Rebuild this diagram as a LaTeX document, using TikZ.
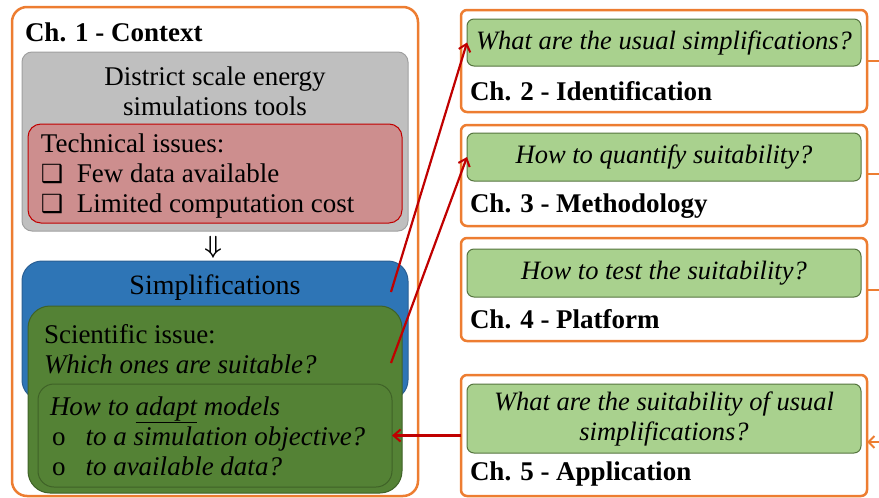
\documentclass[tikz,border=0pt]{standalone}
\usepackage{fontspec}
\setmainfont{Liberation Serif}
\newfontfamily\djv{DejaVu Sans}
\usetikzlibrary{arrows.meta}
\definecolor{orng}{HTML}{ED7D31}
\definecolor{grayfill}{HTML}{BFBFBF}
\definecolor{grayline}{HTML}{A0A0A0}
\definecolor{redfill}{HTML}{CD8E8E}
\definecolor{redline}{HTML}{C00000}
\definecolor{bluefill}{HTML}{2E75B6}
\definecolor{blueline}{HTML}{2A5F94}
\definecolor{dgreen}{HTML}{548235}
\definecolor{dgreenline}{HTML}{3F6227}
\definecolor{lgreen}{HTML}{A9D18E}
\definecolor{lgreenline}{HTML}{56753F}
\definecolor{arrred}{HTML}{C00000}
\newcommand{\chkbx}{{\djv\bfseries\fontsize{25}{30}\selectfont ❑}}
\begin{document}
\begin{tikzpicture}[x=1pt,y=-1pt,
  every node/.style={inner sep=0pt, outer sep=0pt},
  txt/.style={font=\fontsize{27}{30}\selectfont, text=black},
  chbox/.style={draw=orng, line width=2.5pt, anchor=north west, rounded corners=6pt},
  qbox/.style={draw=lgreenline, fill=lgreen, line width=1pt, anchor=north west, rounded corners=7pt},
  panel/.style={anchor=north west, line width=1pt},
  redarr/.style={draw=arrred, line width=2.2pt, -{Straight Barb[length=7pt,width=12pt,line width=2pt]}},
  orarr/.style={draw=orng, line width=2.2pt},
]
\useasboundingbox (0,0) rectangle (879,498);
% Chapter 1
\node[chbox, rounded corners=15pt, minimum width=406pt, minimum height=489pt] (c1) at (12,7) {};
\node[txt, font=\fontsize{27}{30}\selectfont\bfseries, anchor=west] (t1) at (25,32) {Ch. 1 - Context};
\node[panel, draw=grayline, fill=grayfill, rounded corners=10pt, minimum width=386pt, minimum height=179pt] (gray) at (22,52) {};
\node[txt, align=center] (tgray) at (215,91) {District scale energy\\simulations tools};
\node[panel, draw=redline, fill=redfill, rounded corners=13pt, minimum width=374pt, minimum height=99pt] (red) at (28,124) {};
\node[txt, align=left, anchor=west] (tred) at (41,176) {Technical issues:\\\chkbx\hspace{0.5em}Few data available\\\chkbx\hspace{0.5em}Limited computation cost};
\node[txt, font=\fontsize{30}{30}\selectfont\boldmath] (dbl) at (213,247) {$\Downarrow$};
\node[panel, draw=blueline, fill=bluefill, rounded corners=20pt, minimum width=386pt, minimum height=139pt] (blue) at (22,261) {};
\node[txt, font=\fontsize{28}{30}\selectfont] (tblue) at (215,288) {Simplifications};
\node[panel, draw=dgreenline, fill=dgreen, rounded corners=22pt, minimum width=374pt, minimum height=187pt] (green) at (28,306) {};
\node[txt, align=left, anchor=west] (tgreen) at (44,349) {Scientific issue:\\\itshape Which ones are suitable?};
\node[panel, draw=dgreenline, fill=dgreen, rounded corners=16pt, minimum width=354pt, minimum height=103pt] (inner) at (38,384) {};
\node[txt, align=left, anchor=west] (tinner) at (50,436) {\itshape How to \underline{adapt} models\\[0pt]\hspace{2pt}\upshape o\hspace{20pt}\itshape to a simulation objective?\\\hspace{2pt}\upshape o\hspace{20pt}\itshape to available data?};
% Chapter 2
\node[chbox, minimum width=406pt, minimum height=102pt] (c2) at (461,10) {};
\node[qbox, minimum width=394pt, minimum height=47pt] (q2) at (467,19) {};
\node[txt, font=\fontsize{26.5}{30}\selectfont\itshape] (tq2) at (q2.center) {What are the usual simplifications?};
\node[txt, font=\fontsize{27}{30}\selectfont\bfseries, anchor=west] (l2) at (470,91) {Ch. 2 - Identification};
% Chapter 3
\node[chbox, minimum width=406pt, minimum height=101pt] (c3) at (461,125) {};
\node[qbox, minimum width=394pt, minimum height=48pt] (q3) at (467,133) {};
\node[txt, font=\fontsize{26.5}{30}\selectfont\itshape] (tq3) at (q3.center) {How to quantify suitability?};
\node[txt, font=\fontsize{27}{30}\selectfont\bfseries, anchor=west] (l3) at (470,206) {Ch. 3 - Methodology};
% Chapter 4
\node[chbox, minimum width=406pt, minimum height=103pt] (c4) at (461,238) {};
\node[qbox, minimum width=394pt, minimum height=48pt] (q4) at (467,249) {};
\node[txt, font=\fontsize{26.5}{30}\selectfont\itshape] (tq4) at (q4.center) {How to test the suitability?};
\node[txt, font=\fontsize{27}{30}\selectfont\bfseries, anchor=west] (l4) at (470,319) {Ch. 4 - Platform};
% Chapter 5
\node[chbox, minimum width=406pt, minimum height=121pt] (c5) at (461,375) {};
\node[qbox, minimum width=394pt, minimum height=69pt] (q5) at (467,384) {};
\node[txt, font=\fontsize{26.5}{30}\selectfont\itshape, align=center] (tq5) at (q5.center) {What are the suitability of usual\\simplifications?};
\node[txt, font=\fontsize{27}{30}\selectfont\bfseries, anchor=west] (l5) at (470,474) {Ch. 5 - Application};
% connectors
\coordinate (s1) at (391,292);
\coordinate (s2) at (391,363);
\draw[redarr] (s1) -- (q2.west);
\draw[redarr] (s2) -- (q3.west);
\draw[redarr] (c5.west |- inner.east) -- (inner.east);
\coordinate (e2) at (880,61);
\coordinate (e3) at (880,174);
\coordinate (e4) at (880,290);
\coordinate (e5) at (880,442);
\draw[orarr] (c2.east |- e2) -- (e2);
\draw[orarr] (c3.east |- e3) -- (e3);
\draw[orarr] (c4.east |- e4) -- (e4);
\draw[orarr, -{Straight Barb[length=6pt,width=12pt,line width=2pt]}] (e5) -- (c5.east |- e5);
\end{tikzpicture}
\end{document}
